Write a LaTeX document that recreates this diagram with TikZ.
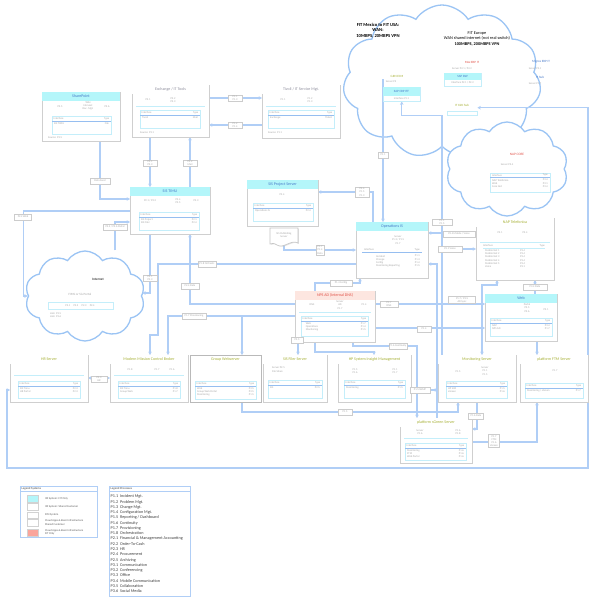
\documentclass[tikz,border=0pt]{standalone}
\usepackage{fontspec}
\setmainfont{Carlito}
\usetikzlibrary{shapes.symbols,shadows,arrows.meta}
\definecolor{lnk}{RGB}{176,206,246}
\definecolor{cloudc}{RGB}{155,196,244}
\definecolor{hdcyan}{RGB}{180,246,250}
\definecolor{hdpink}{RGB}{253,230,224}
\definecolor{ttblue}{RGB}{70,120,200}
\definecolor{ttolive}{RGB}{165,175,50}
\definecolor{ttred}{RGB}{225,80,70}
\definecolor{ttgrey}{RGB}{140,140,155}
\definecolor{tabc}{RGB}{196,238,250}
\definecolor{tabl}{RGB}{150,190,240}
\definecolor{legpink}{RGB}{250,165,155}
\newcount\mytxcount
\newcommand\tinyf{\fontsize{2.7}{3.2}\selectfont}
\newcommand\ttlf{\fontsize{4}{4.8}\selectfont}
\pgfdeclarelayer{back}\pgfdeclarelayer{mid}\pgfsetlayers{back,mid,main}
\tikzset{
  sysbox/.style={draw=gray!38, fill=white, line width=0.6pt, inner sep=0pt, outer sep=0pt, drop shadow={shadow xshift=0.9pt, shadow yshift=-0.9pt, opacity=0.45, fill=gray!60}},
  tinyt/.style={font=\tinyf, text=gray!70, inner sep=0pt, align=center},
  boxtitle/.style={font=\ttlf, inner sep=0pt},
  tabframe/.style={draw=tabc, line width=0.7pt},
  tabrule/.style={draw=tabl, line width=0.7pt},
  sepl/.style={draw=tabc, line width=0.6pt},
  conn/.style={draw=lnk, line width=1.3pt, -{Stealth[length=3.4pt,width=3.6pt]}},
  connb/.style={draw=lnk, line width=1.3pt, {Stealth[length=3.4pt,width=3.6pt]}-{Stealth[length=3.4pt,width=3.6pt]}},
  chip/.style={draw=gray!40, fill=white, line width=0.4pt, inner sep=0.8pt, font=\tinyf, text=gray!70, align=center, minimum width=14pt, minimum height=6pt},
  cloudsh/.style={cloud, cloud puffs=11, cloud puff arc=115, cloud ignores aspect, draw=cloudc, line width=1.3pt, fill=white, inner sep=0pt},
  legbox/.style={draw=lnk, line width=0.9pt, fill=white, inner sep=0pt, anchor=north west, drop shadow={shadow xshift=0.7pt, shadow yshift=-0.7pt, opacity=0.35, fill=gray!50}},
  subbox/.style={draw=tabc, fill=white, line width=0.5pt, inner sep=0pt, anchor=north west},
}
\newcommand\mytx[3][]{\global\advance\mytxcount by 1\relax\node[tinyt,#1] (tx\the\mytxcount) at (#2) {#3};}
\newcommand\mysysbox[8]{%
  \node[sysbox, minimum width={#4-#2}, minimum height={#5-#3}] (#1) at ({(#2+#4)/2},{(#3+#5)/2}) {};
  \fill[#8] (#2+0.4,#3+0.4) rectangle (#4-0.4,#3+9);
  \node[boxtitle, text=#7] (#1-t) at ({(#2+#4)/2},#3+4.6) {#6};
}
\newcommand\mytab[8]{%
  \draw[tabframe] (#1,#2) rectangle (#3,#4);
  \draw[tabrule] (#1,#2+5) -- (#3,#2+5);
  \mytx[anchor=west]{#1+1.5,#2+2.6}{#5}
  \mytx[anchor=east]{#3-1.5,#2+2.6}{#6}
  \mytx[anchor=north west,align=left]{#1+2,#2+6.2}{#7}
  \mytx[anchor=north east,align=right]{#3-2,#2+6.2}{#8}
}
\newcommand\mysep[3]{\draw[sepl] (#1+4,#3) -- (#2-4,#3);}
\begin{document}
\begin{tikzpicture}[x=1pt,y=-1pt]
\begin{pgfonlayer}{back}
\fill[white] (0,0) rectangle (590,597);
\node[cloudsh, minimum width=198pt, minimum height=153pt] (fitcloud) at (442,81.5) {};
\node[cloudsh, cloud puffs=10, minimum width=122pt, minimum height=94pt] (napcloud) at (507,169) {};
\node[cloudsh, cloud puffs=10, minimum width=120pt, minimum height=90pt] (inet) at (85,296) {};
\end{pgfonlayer}
\useasboundingbox (0,0) rectangle (590,597);

% ---- cloud texts
\node[font=\bfseries\fontsize{4.6}{5.5}\selectfont, align=center, inner sep=0pt] (fitmex) at (378,30.5) {FIT Mexico to FIT USA:\\WAN:\\10MBPS, 20MBPS VPN};
\node[font=\fontsize{4.3}{5.5}\selectfont, align=center, inner sep=0pt] (fiteu) at (477,38.5) {FIT Europe\\WAN shared internet (not real switch)\\\textbf{100MBPS, 200MBPS VPN}};
\mytx[text=ttolive, font=\fontsize{3.2}{4}\selectfont]{397,76}{GRN ECM}
\mytx{391,81.5}{Server P3}
\node[subbox, minimum width=37pt, minimum height=14pt] (sapcrp) at (383,87) {};
\fill[hdcyan] (383.3,87.3) rectangle (419.7,96);
\mytx[text=ttblue, font=\fontsize{3.2}{4}\selectfont]{401.5,91.5}{SAP CRP ITF}
\mytx{401.5,98.5}{Interface P1.1}
\mytx[text=ttred, font=\fontsize{3.2}{4}\selectfont]{472,62}{Mex ERP IT}
\mytx{462,68.5}{Server P2.1 / P2.2}
\node[subbox, minimum width=37pt, minimum height=13pt] (sapbw) at (444,73) {};
\fill[hdcyan] (444.3,73.3) rectangle (480.7,80);
\mytx[text=ttblue, font=\fontsize{3.2}{4}\selectfont]{462.5,76.6}{SAP BW}
\mytx{462.5,83}{Interface P2.1 / P2.2}
\mytx[text=ttblue, font=\fontsize{3.2}{4}\selectfont]{541,62}{Migros ERP IT}
\mytx{535,69}{Server P2.1}
\mytx[text=ttblue, font=\fontsize{3.2}{4}\selectfont]{540,77}{IT hub}
\mytx{535,84}{Server P1.7}
\mytx[text=ttolive, font=\fontsize{3.2}{4}\selectfont]{462,105}{IT X2X hub}
\node[minimum width=30pt, minimum height=15pt, inner sep=0pt, anchor=north west] (ithub) at (447,100) {};
\draw[tabframe] (447,111) rectangle (477,115);

\mytx[text=ttred, font=\fontsize{3.4}{4}\selectfont]{517,154}{NAP CORE}
\mytx{507,165}{Server P3.4}
\draw[tabframe] (490,173) rectangle (550,192);
\draw[tabrule] (490,177.5) -- (550,177.5);
\mytx[anchor=west]{492,175.3}{Interface}
\mytx[anchor=east]{548,175.3}{Type}
\mytx[anchor=north west,align=left]{492,179}{NAP Telefonica\\Web\\Core Net}
\mytx[anchor=north east,align=right]{548,179}{P3.4\\P3.1\\P3.4}

\mytx[font=\bfseries\fontsize{3.4}{4}\selectfont, text=black!75]{98,279}{Internet}
\mytx[font=\fontsize{3.2}{4}\selectfont]{80,294}{FIMS or Sis Portal}
\draw[tabframe] (48,302) rectangle (113,309);
\mytx{80,305.5}{P2.1 \quad P2.2 \quad P2.3 \quad P2.4}
\mytx[anchor=north west,align=left]{50,312}{Link: P3.5\\Link: P3.6}

% ---- system boxes
\mysysbox{share}{42}{92}{120}{141}{SharePoint}{ttblue}{hdcyan}
\mytx{60,107}{P3.5}
\mytx{88,106}{Wiki\\Intranet\\Doc. Mgt.}
\mytx{107,107}{P3.6}
\mytab{52}{116}{111}{134}{Interface}{Type}{SIS TIMU}{File}
\mytx[anchor=west]{48,137.5}{Source: P3.5}

\mysysbox{exch}{132}{85}{209}{137}{Exchange / IT Tools}{ttgrey}{white}
\mytx{148,100}{P3.1}
\mytx{173,100}{P3.2\\P3.3}
\mysep{132}{209}{106}
\mytab{140}{110}{200}{128}{Interface}{Type}{Tivoli}{Mail}
\mytx[anchor=west]{140,132.5}{Source: P3.1}

\mysysbox{tiv}{262}{85}{340}{138}{Tivoli / IT Service Mgt.}{ttgrey}{white}
\mytx{283,100}{P1.1}
\mytx{310,100}{P1.2\\P1.3}
\mysep{262}{340}{106}
\mytab{268}{110}{334}{128}{Interface}{Type}{Exchange}{Ticket}
\mytx[anchor=west]{268,132.5}{Source: P1.1}

\mysysbox{sis}{130}{187}{210}{234}{SIS TIMU}{ttblue}{hdcyan}
\mytx{150,201}{P2.1 / P2.2}
\mytx{178,201}{P2.4\\P2.5}
\mytx{196,201}{P2.3}
\mytab{139}{212}{199}{230}{Interface}{Type}{SIS Project\\SIS Filer}{P2.1\\P2.4}

\mysysbox{proj}{247}{180}{318}{226}{SIS Project Server}{ttblue}{hdcyan}
\mytx{282,195}{P2.4}
\mytab{253}{203}{313}{221}{Interface}{Type}{Operations IS}{P2.4}

\node[tinyt, minimum width=28pt, minimum height=16pt] (doc) at (284,235) {SIS Publishing\\Server};
\draw[gray!45, line width=0.6pt, fill=white, drop shadow={shadow xshift=0.8pt, shadow yshift=-0.8pt, opacity=0.4, fill=gray!60}] (270,228) -- (298,228) -- (298,243) .. controls (291,239) and (284,249) .. (277,245) .. controls (274,243) and (272,243) .. (270,244) -- cycle;
\node[tinyt] (doc-t) at (284,235) {SIS Publishing\\Server};

\mysysbox{ops}{356}{222}{428}{278}{Operations IS}{ttblue}{hdcyan}
\mytx{398,240}{Server\\P1.3 / P1.5\\P1.7}
\draw[tabrule] (362,252) -- (422,252);
\mytx[anchor=west]{364,250}{Interface}
\mytx[anchor=east]{420,250}{Type}
\mytx[anchor=north west,align=left]{376,255}{Incident\\Change\\Config\\Monitoring Reporting}
\mytx[anchor=north east,align=right]{420,255}{P1.1\\P1.3\\P1.4\\P1.5}

\mysysbox{nps}{295}{291}{375}{342}{NPS AD (Internal DNS)}{ttred}{hdpink}
\mytx{312,305}{DNS}
\mytx{340,305}{Server\\AD\\P1.7}
\mytx{364,305}{P1.4}
\mysep{295}{375}{312}
\mytab{301}{316}{368}{336}{Interface}{Type}{\quad Web\\\quad Operations\\\quad Monitoring}{P1.7\\P1.4\\P1.5}

\mysysbox{nap}{476}{218}{554}{280}{NAP Telefonica}{ttolive}{white}
\mytx{500,233}{P3.1}
\mytx{525,233}{P3.4}
\mysep{476}{554}{242}
\mytx[anchor=west]{483,245.5}{Interface}
\mytx[anchor=east]{545,245.5}{Type}
\draw[tabframe] (483,248) -- (545,248);
\mytx[anchor=north west,align=left]{485,249.5}{Mobile Net 1\\Mobile Net 2\\Mobile Net 3\\Mobile Net 4\\Mobile Net 5\\Voice}
\mytx[anchor=north west,align=left]{520,249.5}{P3.4\\P3.4\\P3.4\\P3.4\\P3.4\\P3.1}

\mysysbox{web}{485}{294}{557}{341}{Web}{ttblue}{hdcyan}
\mytx{527,308}{Portal\\P3.5\\P3.6}
\mytx{546,310}{P3.1}
\mytab{490}{318}{552}{336}{Interface}{Type}{NAP\\NPS AD}{P3.4\\P1.7}

\mysysbox{hr}{10}{355}{88}{402}{HR Server}{ttolive}{white}
\mysep{10}{88}{375}
\mytab{18}{381}{80}{398}{Interface}{Type}{SIS Timu\\HR Portal}{P2.3\\P2.3}

\mysysbox{mmc}{110}{355}{188}{402}{Modern Mission Control Broker}{ttolive}{white}
\mytx{130,370}{P1.8}
\mytx{157,370}{P1.7}
\mytx{172,370}{P1.6}
\mysep{110}{188}{375}
\mytab{118}{381}{180}{398}{Interface}{Type}{SIS Timu\\Group Web}{P1.8\\P1.7}

\mysysbox{grp}{190}{355}{261}{402}{Group Webserver}{ttolive}{white}
\draw[gray!55, line width=0.8pt] (grp.north west) rectangle (grp.south east);
\mytab{195}{381}{256}{399}{Interface}{Type}{Web\\Group Web Portal\\Monitoring}{P3.5\\P3.5\\P1.5}

\mysysbox{filer}{263}{355}{327}{402}{SIS Filer Server}{ttolive}{white}
\mytx[anchor=north west,align=left]{272,367}{Server P2.5\\File Share}
\mytab{268}{380}{322}{398}{Interface}{Type}{SIS}{P2.5}

\mysysbox{hp}{338}{355}{411}{402}{HP System Insight Management}{ttolive}{white}
\mytx{355,371}{P1.5\\P1.6}
\mytx{395,371}{P1.1\\P1.7}
\mytab{344}{380}{405}{398}{Interface}{Type}{Monitoring}{P1.5}

\mysysbox{mon}{438}{355}{516}{402}{Monitoring Server}{ttolive}{white}
\mytx{458,372}{P1.5}
\mytx{485,371}{Server\\P1.1\\P1.5}
\mytab{446}{381}{507}{398}{Interface}{Type}{HP SIM\\sGreen}{P1.5\\P1.6}

\mysysbox{ftm}{520}{355}{588}{402}{platform FTM Server}{ttolive}{white}
\mytx{555,371}{P1.7}
\mytab{525}{383}{583}{398}{Interface}{Type}{Monitoring / sGreen}{P1.7}

\mysysbox{sgreen}{400}{418}{472}{463}{platform sGreen Server}{ttolive}{white}
\mytx{420,432}{Server\\P1.6}
\mytx{458,432}{P1.6\\P1.8}
\mysep{400}{472}{438}
\mytab{405}{443}{466}{460}{Interface}{Type}{Monitoring\\FTM\\Web Portal}{P1.6\\P1.6\\P1.6}

% ---- connectors
\begin{pgfonlayer}{mid}
\draw[conn] (share.south -| 100,0) |- (sis.west |- 0,199);
\draw[conn] (exch.east |- 0,98) -- (tiv.west |- 0,98);
\draw[conn] (tiv.west |- 0,125) -- (exch.east |- 0,125);
\draw[conn] (exch.south -| 150,0) -- (sis.north -| 150,0);
\draw[conn] (sis.north -| 190,0) -- (exch.south -| 190,0);
\draw[conn] (sis.west |- 0,211) -| ([xshift=-4pt]inet.west) -- (inet.west);
\draw[conn] (inet.north -| 115,0) |- (sis.west |- 0,222);
\draw[conn] (sis.south -| 150,0) |- (inet.east |- 0,293);
\draw[conn] (nps.west |- 0,304) -| (sis.south -| 190,0);
\draw[conn] (ops.west |- 0,264) -| (158,335) -| (mmc.north -| 150,0);
\draw[conn] (nps.west |- 0,316) -| (mmc.north -| 168,0);
\draw[conn] (nps.west |- 0,316) -| (grp.north -| 242,0);
\draw[conn] (ops.north -| 373,0) |- (proj.east |- 0,192);
\draw[conn] ([yshift=8pt]sapcrp.north west) -- (ops.north -| sapcrp.west);
\draw[conn] (nap.west |- 0,233) -- (ops.east |- 0,233);
\draw[conn] (442,249) -- (nap.west |- 0,249);
\draw[conn] (mon.north -| 442,0) |- ([yshift=-14pt]sapcrp.south) -- (sapcrp.south);
\draw[connb] (ithub.east) -| (588,468) -- (7,468) |- (hr.west |- 0,390);
\draw[conn] (sgreen.north -| 437,0) |- (ops.east |- 0,264);
\draw[conn] (nps.south -| 353,0) -- (353,346) -| (sgreen.north -| 417,0);
\draw[conn] (nps.south -| 315,0) -- (315,352) -| (hp.north -| 374,0);
\draw[conn] (nps.south -| 298,0) -- (filer.north -| 298,0);
\draw[conn] (nps.east |- 0,304) -- (web.west |- 0,304);
\draw[conn] (nps.east |- 0,328) -- (web.west |- 0,328);
\draw[conn] (web.north -| 535,0) -- (nap.south -| 535,0);
\draw[connb] (nap.south -| 497,0) -- (497,285) -| (mon.north -| 482,0);
\draw[conn] (web.south -| 537,0) -- (ftm.north -| 537,0);
\draw[conn] (grp.south -| 242,0) -- (242,412) -| (mon.south -| 458,0);
\draw[conn] (mon.south -| 477,0) |- (sgreen.east |- 0,429);
\draw[conn] (sgreen.east |- 0,442) -| (ftm.south -| 537,0);
\draw[conn] (hp.east |- 0,390) -- (mon.west |- 0,390);
\draw[connb] (hr.east |- 0,378) -- (mmc.west |- 0,378);
\draw[conn] (nps.north -| 315,0) |- (360,283) -- (ops.south -| 360,0);
\draw[conn] (doc.south) |- (ops.west |- 0,250);
\end{pgfonlayer}

% ---- connector labels
\node[chip, minimum width=20pt] (c1) at (100,181) {Data Feed};
\node[chip] (c2) at (235,98) {P1.1\\P1.3};
\node[chip] (c3) at (235,125) {P1.2\\P1.4};
\node[chip] (c4) at (150,163) {P3.1\\P3.3};
\node[chip] (c5) at (190,163) {P3.2\\Mail};
\node[chip, minimum width=17pt] (c6) at (23,217) {P2.2 Web};
\node[chip, minimum width=24pt] (c7) at (115,227) {P3.5 / P3.6 Portal};
\node[chip] (c8) at (150,278) {P2.1\\P2.3};
\node[chip, minimum width=18pt] (c9) at (190,286) {P2.4 Data};
\node[chip, minimum width=18pt] (c10) at (207,264) {P1.8 Orchestr.};
\node[chip, minimum width=24pt] (c11) at (194,316) {P1.7 Provisioning};
\node[chip] (c12) at (362,192) {P2.4\\P1.5\\P1.3};
\node[chip, minimum width=10pt] (c13) at (383,155) {P1.1};
\node[chip, minimum width=32pt] (c14) at (459,234) {P3.4 Mobile / Voice};
\node[chip, minimum width=24pt] (c15) at (450,249) {P3.1 Voice};
\node[chip, minimum width=20pt] (c16) at (442,222) {P1.1\\P1.5};
\node[chip, minimum width=18pt] (c19) at (398,346) {P1.6 Continuity};
\node[chip, minimum width=12pt] (c21) at (297,340) {P2.5};
\node[chip, minimum width=18pt] (c22a) at (389,304) {P1.7\\DNS};
\node[chip, minimum width=27pt] (c22b) at (462,300) {P1.7 / P3.5\\AD Sync};
\node[chip, minimum width=14pt] (c23) at (424,329) {P1.4};
\node[chip, minimum width=24pt] (c24) at (535,287) {P3.4 Data};
\node[chip, minimum width=14pt] (c27) at (345,412) {P1.5};
\node[chip, minimum width=15pt] (c28) at (476,416) {P1.6 Data};
\node[chip, minimum width=11pt] (c29) at (494,441) {P1.7\\FTM\\P1.6\\sGreen};
\node[chip, minimum width=20pt] (c30) at (420,390) {P1.5 SNMP};
\node[chip, minimum width=16pt] (c31) at (99,379) {P2.3\\HR};
\node[chip, minimum width=22pt] (c32) at (341,283) {P1.4 Config};
\node[chip, minimum width=8pt] (c33) at (320,250) {P1.7\\P1.4\\Data};

% ---- legends
\node[legbox, minimum width=77pt, minimum height=51pt] (legsys) at (20,486) {};
\draw[lnk, line width=0.6pt] (20,491.5) -- (97,491.5);
\node[font=\fontsize{3}{3.5}\selectfont, anchor=west, inner sep=0pt, text=black!75] (legsys-t) at (21.5,489) {Legend Systems};
\node[draw=gray!35, fill=hdcyan, minimum width=11pt, minimum height=7pt, inner sep=0pt, anchor=north west] (sw1) at (27,495) {};
\node[draw=gray!35, fill=white, minimum width=11pt, minimum height=7pt, inner sep=0pt, anchor=north west] (sw2) at (27,503) {};
\node[draw=gray!35, fill=white, minimum width=11pt, minimum height=6pt, inner sep=0pt, anchor=north west] (sw3) at (27,511.5) {};
\node[draw=gray!35, fill=white, minimum width=11pt, minimum height=7pt, inner sep=0pt, anchor=north west] (sw4) at (27,519) {};
\node[draw=gray!35, fill=legpink, minimum width=11pt, minimum height=7pt, inner sep=0pt, anchor=north west] (sw5) at (27,528.5) {};
\mytx[anchor=west, align=left, font=\fontsize{2.8}{3.3}\selectfont, text=black!65]{45,498.5}{IM System: FIT Only}
\mytx[anchor=west, align=left, font=\fontsize{2.8}{3.3}\selectfont, text=black!65]{45,506.5}{IM System: Shared Customer}
\mytx[anchor=west, align=left, font=\fontsize{2.8}{3.3}\selectfont, text=black!65]{45,514.5}{FIM System}
\mytx[anchor=west, align=left, font=\fontsize{2.8}{3.3}\selectfont, text=black!65]{45,522.5}{Cloud Apps \& Basic Infrastructure\\Shared Customer}
\mytx[anchor=west, align=left, font=\fontsize{2.8}{3.3}\selectfont, text=black!65]{45,532}{Cloud Apps \& Basic Infrastructure\\FIT Only}

\node[legbox, minimum width=81pt, minimum height=110pt] (legproc) at (109,486) {};
\draw[lnk, line width=0.6pt] (109,491.5) -- (190,491.5);
\node[font=\fontsize{3}{3.5}\selectfont, anchor=west, inner sep=0pt, text=black!75] (legproc-t) at (110.5,489) {Legend Processes};
\node[font=\fontsize{4.2}{5.28}\selectfont, anchor=north west, align=left, inner sep=0pt, text=black!75] (proclist) at (110.5,494.6) {P1.1 \ Incident Mgt.\\P1.2 \ Problem Mgt.\\P1.3 \ Change Mgt.\\P1.4 \ Configuration Mgt.\\P1.5 \ Reporting / Dashboard\\P1.6 \ Continuity\\P1.7 \ Provisioning\\P1.8 \ Orchestration\\P2.1 \ Financial \& Management Accounting\\P2.2 \ Order-To-Cash\\P2.3 \ HR\\P2.4 \ Procurement\\P2.5 \ Archiving\\P3.1 \ Communication\\P3.2 \ Conferencing\\P3.3 \ Office\\P3.4 \ Mobile Communication\\P3.5 \ Collaboration\\P3.6 \ Social Media};
\end{tikzpicture}
\end{document}
